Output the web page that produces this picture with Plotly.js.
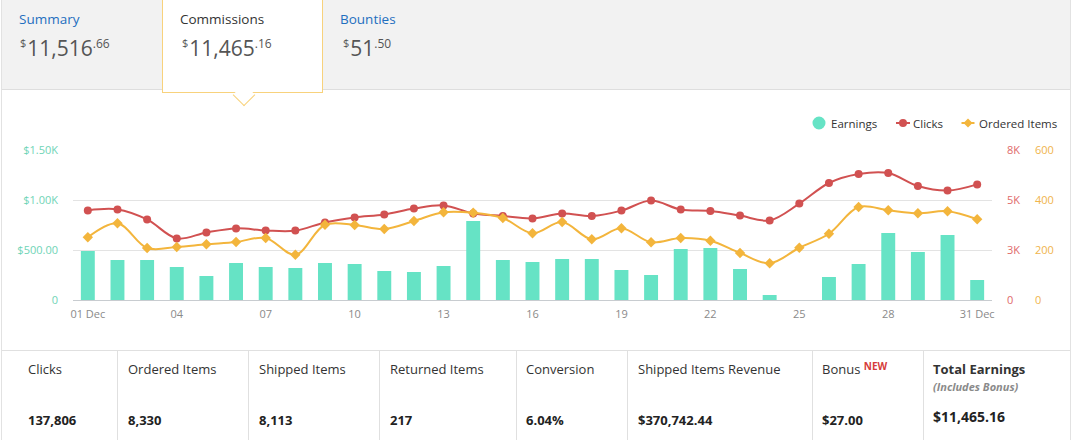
<!DOCTYPE html>
<html>
<head>
<meta charset="utf-8">
<script src="https://cdn.plot.ly/plotly-3.0.1.min.js"></script>
<style>
  html, body { margin:0; padding:0; background:#fff; width:1072px; height:440px; overflow:hidden; font-family:"Open Sans", "Noto Sans", sans-serif; }
  .abs { position:absolute; white-space:nowrap; }
  #frameL { left:1px; top:0; width:1px; height:440px; background:#e2e2e2; }
  #frameR { left:1070px; top:0; width:1px; height:440px; background:#e2e2e2; }
  #header { left:2px; top:0; width:1068px; height:89px; background:#f2f2f2; border-bottom:1px solid #dedede; }
  #tab { left:162px; top:-2px; width:159px; height:94px; background:#fff; border:1.5px solid #f8d27c; border-top:none; }
  #tri { left:235.5px; top:86.5px; width:15px; height:15px; background:#fff; border-right:1.5px solid #f8d27c; border-bottom:1.5px solid #f8d27c; transform:rotate(45deg); }
  .tabtitle { font-size:13.5px; line-height:18px; top:10px; }
  .link { color:#1f6fbf; }
  .dark { color:#333; }
  .amt { top:36px; height:24px; line-height:24px; font-size:21px; color:#555; }
  .amt .s1 { font-size:11px; vertical-align:top; line-height:11px; position:relative; top:1px; margin-right:1px; }
  .amt .s2 { font-size:12px; vertical-align:top; line-height:12px; position:relative; top:2px; }
  #chart { left:0; top:100px; width:1072px; height:250px; }
  #tabletop { left:2px; top:350px; width:1068px; height:1px; background:#e0e0e0; }
  .vdiv { top:350px; width:1px; height:90px; background:#e0e0e0; }
  .lab { top:360px; font-size:13px; line-height:18px; color:#333; }
  .val { top:411px; font-size:13px; line-height:18px; color:#222; font-weight:bold; }
</style>
</head>
<body>
<div id="frameL" class="abs"></div>
<div id="frameR" class="abs"></div>
<div id="header" class="abs"></div>
<div id="tab" class="abs"></div>
<div id="tri" class="abs"></div>

<div class="abs tabtitle link" style="left:19px;">Summary</div>
<div class="abs amt" style="left:20px;"><span class="s1">$</span>11,516<span class="s2">.66</span></div>
<div class="abs tabtitle dark" style="left:180px;">Commissions</div>
<div class="abs amt" style="left:182px;"><span class="s1">$</span>11,465<span class="s2">.16</span></div>
<div class="abs tabtitle link" style="left:340px;">Bounties</div>
<div class="abs amt" style="left:343px;"><span class="s1">$</span>51<span class="s2">.50</span></div>

<div id="chart" class="abs"></div>

<div id="tabletop" class="abs"></div>
<div class="abs vdiv" style="left:117px;"></div>
<div class="abs vdiv" style="left:248px;"></div>
<div class="abs vdiv" style="left:379px;"></div>
<div class="abs vdiv" style="left:516px;"></div>
<div class="abs vdiv" style="left:627px;"></div>
<div class="abs vdiv" style="left:812px;"></div>
<div class="abs vdiv" style="left:923px;"></div>

<div class="abs lab" style="left:28px;">Clicks</div>
<div class="abs val" style="left:28px;">137,806</div>
<div class="abs lab" style="left:128px;">Ordered Items</div>
<div class="abs val" style="left:128px;">8,330</div>
<div class="abs lab" style="left:259px;">Shipped Items</div>
<div class="abs val" style="left:259px;">8,113</div>
<div class="abs lab" style="left:390px;">Returned Items</div>
<div class="abs val" style="left:390px;">217</div>
<div class="abs lab" style="left:526px;">Conversion</div>
<div class="abs val" style="left:526px;">6.04%</div>
<div class="abs lab" style="left:638px;">Shipped Items Revenue</div>
<div class="abs val" style="left:638px;">$370,742.44</div>
<div class="abs lab" style="left:822px;">Bonus <span style="color:#d63b3b;font-weight:bold;font-size:10px;vertical-align:top;position:relative;top:-3px;">NEW</span></div>
<div class="abs val" style="left:822px;">$27.00</div>
<div class="abs lab" style="left:933px;font-weight:bold;">Total Earnings</div>
<div class="abs" style="left:933px;top:379px;font-size:11px;line-height:16px;color:#8a8a8a;font-style:italic;font-weight:bold;">(Includes Bonus)</div>
<div class="abs val" style="left:933px;top:408px;font-size:14px;">$11,465.16</div>

<script>
// ---- data ----
const days = [1,2,3,4,5,6,7,8,9,10,11,12,13,14,15,16,17,18,19,20,21,22,23,24,25,26,27,28,29,30,31];
const earnings = [490,400,400,330,240,370,330,320,370,360,290,280,340,790,400,380,410,410,300,250,510,520,310,50,0,230,360,670,480,650,200];
const clicks = [4480,4530,4030,3080,3380,3580,3480,3470,3880,4130,4280,4570,4730,4330,4200,4080,4330,4200,4470,4970,4520,4450,4220,3980,4820,5850,6300,6350,5700,5470,5780];
const orderedItems = [251,307,208,212,223,232,248,181,301,300,284,316,351,349,328,267,312,243,287,231,248,237,188,147,209,265,372,359,347,355,323];
const xTickVals = [1,4,7,10,13,16,19,22,25,28,31];
const xTickText = ['01 Dec','04','07','10','13','16','19','22','25','28','31 Dec'];
const earnTickVals = [0,500,1000,1500];
const earnTickText = ['0','$500.00','$1.00K','$1.50K'];
const clickTickVals = [0,2500,5000,7500];
const clickTickText = ['0','3K','5K','8K'];
const orderTickVals = [0,200,400,600];
const orderTickText = ['0','200','400','600'];
const legendNames = ['Earnings','Clicks','Ordered Items'];

const TEAL = '#66e3c5', RED = '#d15151', ORANGE = '#f3b53c';

// geometry (pixels inside the 1072x250 chart div)
const ML = 73, MR = 39, MT = 50, MB = 50, W = 1072 - ML - MR, H = 250 - MT - MB;
const plotRight = 992;
const px = X => (X - ML) / W;          // page x -> paper x
const LEG_Y = (300 - 123) / H;          // page y 123 -> paper y

const traces = [
  { type:'bar', x:days, y:earnings, name:legendNames[0], marker:{ color:TEAL }, width:0.47 },
  { type:'scatter', mode:'lines+markers', x:days, y:clicks, yaxis:'y2', name:legendNames[1],
    line:{ color:RED, width:2, shape:'spline', smoothing:1 }, marker:{ color:RED, size:8, symbol:'circle' } },
  { type:'scatter', mode:'lines+markers', x:days, y:orderedItems, yaxis:'y3', name:legendNames[2],
    line:{ color:ORANGE, width:2, shape:'spline', smoothing:1 }, marker:{ color:ORANGE, size:8, symbol:'diamond' } }
];

// custom legend (symbols + labels) to match the reference style
const legSym = [px(819), px(903), px(968)];
const legTxt = [px(831), px(913), px(979)];
const shapes = [
  { type:'circle', xref:'paper', yref:'paper', xsizemode:'pixel', ysizemode:'pixel', xanchor:legSym[0], yanchor:LEG_Y,
    x0:-6.5, x1:6.5, y0:-6.5, y1:6.5, fillcolor:TEAL, line:{ width:0 } },
  { type:'line', xref:'paper', yref:'paper', xsizemode:'pixel', ysizemode:'pixel', xanchor:legSym[1], yanchor:LEG_Y,
    x0:-7, x1:7, y0:0, y1:0, line:{ color:RED, width:2 } },
  { type:'circle', xref:'paper', yref:'paper', xsizemode:'pixel', ysizemode:'pixel', xanchor:legSym[1], yanchor:LEG_Y,
    x0:-4, x1:4, y0:-4, y1:4, fillcolor:RED, line:{ width:0 } },
  { type:'line', xref:'paper', yref:'paper', xsizemode:'pixel', ysizemode:'pixel', xanchor:legSym[2], yanchor:LEG_Y,
    x0:-6.5, x1:6.5, y0:0, y1:0, line:{ color:ORANGE, width:2 } },
  { type:'path', xref:'paper', yref:'paper', xsizemode:'pixel', ysizemode:'pixel', xanchor:legSym[2], yanchor:LEG_Y,
    path:'M -4.5 0 L 0 4.5 L 4.5 0 L 0 -4.5 Z', fillcolor:ORANGE, line:{ width:0 } }
];
const annotations = legendNames.map((n, i) => ({
  text:n, xref:'paper', yref:'paper', x:legTxt[i], y:LEG_Y, xanchor:'left', yanchor:'middle',
  showarrow:false, borderpad:0, xshift:-1, font:{ size:11.5, color:'#333' }
}));

const layout = {
  width:1072, height:250,
  margin:{ l:ML, r:MR, t:MT, b:MB, pad:0 },
  paper_bgcolor:'rgba(0,0,0,0)', plot_bgcolor:'rgba(0,0,0,0)',
  font:{ family:'"Open Sans", "Noto Sans", sans-serif', size:11, color:'#888' },
  showlegend:false,
  shapes:shapes, annotations:annotations,
  xaxis:{ domain:[0, (plotRight - ML) / W], range:[0.5,31.5], tickvals:xTickVals, ticktext:xTickText, showgrid:false, zeroline:false,
          showline:true, linecolor:'#c8ccd0', linewidth:1, ticks:'', tickfont:{ size:11, color:'#8a8a8a' },
          ticklabelstandoff:4 },
  yaxis:{ range:[0,1500], tickvals:earnTickVals, ticktext:earnTickText, showgrid:true, gridcolor:'#e3e3e3',
          zeroline:false, showline:false, ticks:'', tickfont:{ size:11, color:'#6fd4b6' }, ticklabelstandoff:14 },
  yaxis2:{ range:[0,7500], overlaying:'y', side:'right', anchor:'x', tickvals:clickTickVals, ticktext:clickTickText,
           showgrid:false, zeroline:false, showline:false, ticks:'', tickfont:{ size:11, color:'#e06a6a' }, ticklabelstandoff:14 },
  yaxis3:{ range:[0,600], overlaying:'y', side:'right', anchor:'free', position:1, tickvals:orderTickVals, ticktext:orderTickText,
           showgrid:false, zeroline:false, showline:false, ticks:'', tickfont:{ size:11, color:'#f0b44c' }, ticklabelstandoff:1 }
};

Plotly.newPlot('chart', traces, layout, { staticPlot:true, displayModeBar:false });
</script>
</body>
</html>
